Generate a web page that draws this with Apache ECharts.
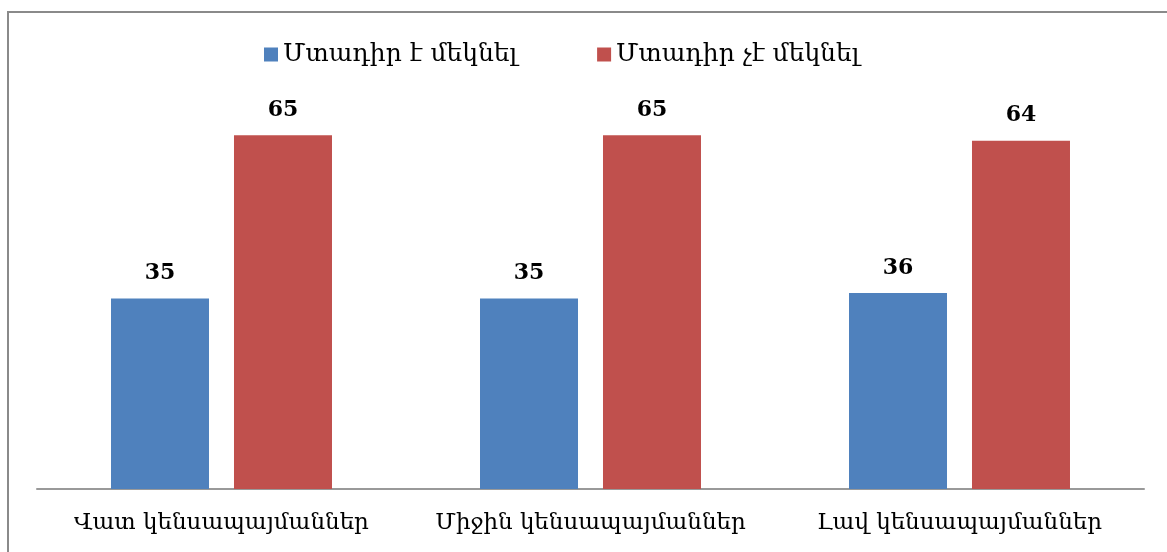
<!DOCTYPE html>
<html>
<head>
<meta charset="utf-8">
<script src="https://cdn.jsdelivr.net/npm/echarts@6/dist/echarts.min.js"></script>
<style>
  html, body { margin: 0; padding: 0; background: #fff; }
  #chart { width: 1167px; height: 552px; }
</style>
</head>
<body>
<div id="chart"></div>
<script>
const categories = ['Վատ կենսապայմաններ', 'Միջին կենսապայմաններ', 'Լավ կենսապայմաններ'];
const seriesNames = ['Մտադիր է մեկնել', 'Մտադիր չէ մեկնել'];
const intendValues = [35, 35, 36];
const notIntendValues = [65, 65, 64];

const font = "'DejaVu Serif', 'Liberation Serif', serif";

const chart = echarts.init(document.getElementById('chart'));

const labelStyle = {
    show: true,
    position: 'top',
    distance: 14,
    color: '#000',
    fontFamily: font,
    fontWeight: 'bold',
    fontSize: 22
};

chart.setOption({
    animation: false,
    graphic: [{
        type: 'rect',
        shape: { x: 8, y: 12, width: 1200, height: 600 },
        style: { fill: 'none', stroke: '#8a8a8a', lineWidth: 2 },
        silent: true
    }],
    legend: {
        top: 37,
        left: 259,
        itemWidth: 14,
        itemHeight: 14,
        itemGap: 80,
        icon: 'rect',
        textStyle: { fontFamily: font, fontSize: 25, color: '#000' },
        data: seriesNames
    },
    grid: { left: 37, right: 23, top: 108, bottom: 63 },
    xAxis: {
        type: 'category',
        data: categories,
        axisLine: { lineStyle: { color: '#999', width: 2 } },
        axisTick: { show: false },
        axisLabel: {
            interval: 0,
            hideOverlap: false,
            margin: 23,
            color: '#000',
            fontFamily: font,
            fontSize: 23
        }
    },
    yAxis: {
        type: 'value',
        min: 0,
        max: 70,
        show: false,
        splitLine: { show: false }
    },
    series: [
        {
            name: seriesNames[0],
            type: 'bar',
            data: intendValues,
            barWidth: 98,
            barGap: '25.5%',
            itemStyle: { color: '#4F81BD' },
            label: labelStyle
        },
        {
            name: seriesNames[1],
            type: 'bar',
            data: notIntendValues,
            barWidth: 98,
            barGap: '25.5%',
            itemStyle: { color: '#C0504D' },
            label: labelStyle
        }
    ]
});
window.addEventListener('resize', () => chart.resize());
</script>
</body>
</html>
